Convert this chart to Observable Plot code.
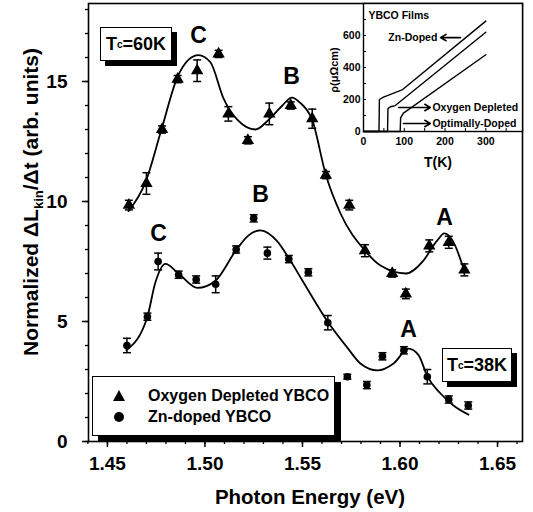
<!DOCTYPE html>
<html><head><meta charset="utf-8">
<script src="https://cdn.jsdelivr.net/npm/d3@7"></script>
<script src="https://cdn.jsdelivr.net/npm/@observablehq/plot@0.6"></script>
<style>
body{margin:0;background:#fff;}
#wrap{position:relative;width:533px;height:512px;font-family:"Liberation Sans",Arial,sans-serif;font-weight:bold;color:#000;}
#wrap > svg{position:absolute;}
.box{position:absolute;background:#fff;border:1px solid #000;box-sizing:border-box;}
.tc{font-size:18px;display:flex;align-items:center;justify-content:center;box-shadow:5px 5px 0 #000;}
.tc sub{font-size:10px;vertical-align:-6px;}
.legend{box-shadow:6px 6px 0 #000;font-size:16px;}
.legend .row{position:absolute;left:0;display:flex;align-items:center;}
.legend .row span{position:absolute;left:55px;white-space:nowrap;}
</style></head><body><div id="wrap"></div>
<script>
// ---- main chart data ----
const oxE   = [1.461,1.470,1.478,1.486,1.496,1.507,1.512,1.522,1.533,1.544,1.555,1.562,1.574,1.582,1.596,1.603,1.615,1.625,1.633];
const oxY   = [9.85,10.75,13.0,15.1,15.45,16.15,13.65,12.55,13.65,14.0,13.45,11.1,9.85,7.95,7.0,6.15,8.15,8.3,7.15];
const oxErr = [0.2,0.45,0.15,0.15,0.45,0.15,0.3,0.15,0.45,0.15,0.4,0.15,0.2,0.25,0.15,0.2,0.25,0.25,0.25];

const znE   = [1.460,1.4705,1.476,1.4865,1.4955,1.5055,1.516,1.525,1.532,1.543,1.553,1.563,1.573,1.583,1.591,1.602,1.614,1.625,1.635];
const znY   = [4.0,5.2,7.5,6.95,6.75,6.55,8.0,9.3,7.85,7.6,7.05,4.95,2.7,2.35,3.55,3.8,2.7,1.75,1.5];
const znErr = [0.3,0.15,0.35,0.15,0.15,0.35,0.15,0.15,0.25,0.15,0.15,0.3,0.1,0.15,0.15,0.15,0.3,0.15,0.15];

const oxFitE = [1.4608,1.4695,1.4777,1.486,1.4915,1.4967,1.5028,1.5095,1.5167,1.5259,1.5326,1.5397,1.5445,1.549,1.555,1.562,1.5695,1.582,1.590,1.603,1.612,1.619,1.6228,1.627,1.6326];
const oxFitY = [9.6,10.8,13.0,15.2,15.9,16.1,15.8,14.3,13.4,13.0,13.4,14.0,14.33,14.1,13.4,11.1,9.5,7.96,7.33,7.0,7.54,8.37,8.67,8.37,7.2];

const znFitE = [1.4597,1.4705,1.4745,1.4797,1.4864,1.4962,1.5054,1.5162,1.5225,1.5285,1.537,1.5433,1.550,1.5633,1.5731,1.5797,1.5885,1.5967,1.6044,1.6095,1.6141,1.6208,1.6274,1.6351];
const znFitY = [3.8,5.2,6.6,7.4,7.0,6.4,6.7,8.0,8.6,8.8,8.35,7.6,6.7,4.95,3.9,3.25,2.96,3.25,3.87,3.6,2.7,2.0,1.5,1.12];

const peakText = ["C","B","A","C","B","A"];
const peakE    = [1.4967,1.5444,1.6228,1.4762,1.5285,1.6044];
const peakY    = [16.92,15.2,9.33,8.67,10.3,4.67];

const xTicks = [1.45,1.50,1.55,1.60,1.65];
const xTickLabels = ["1.45","1.50","1.55","1.60","1.65"];
const yTicks = [0,5,10,15];
const yTickLabels = ["0","5","10","15"];

// ---- inset data ----
const znT  = [0,38,39,49,96,300];   const znR  = [0,0,200,215,262,690];
const oxT  = [0,59,60,66,78,300];   const oxR  = [0,0,143,155,162,620];
const optT = [0,90,91,98,300];      const optR = [0,0,85,115,480];
const insetXTicks = [0,100,200,300];
const insetYTicks = [0,200,400,600];
const noteText = ["YBCO Films","Zn-Doped","Oxygen Depleted","Optimally-Doped"];
const noteT    = [12,61,169,169];
const noteR    = [725,587,150,50];
const arrowT1  = [238,86,98];
const arrowT2  = [189,164,164];
const arrowR   = [587,150,50];

// ---- build ----
const ox = oxE.map((e,i)=>({e, y:oxY[i], lo:oxY[i]-oxErr[i], hi:oxY[i]+oxErr[i]}));
const zn = znE.map((e,i)=>({e, y:znY[i], lo:znY[i]-znErr[i], hi:znY[i]+znErr[i]}));
const oxFit = oxFitE.map((e,i)=>({e, y:oxFitY[i]}));
const znFit = znFitE.map((e,i)=>({e, y:znFitY[i]}));
const peaks = peakText.map((t,i)=>({t, e:peakE[i], y:peakY[i]}));
const errAll = ox.concat(zn);

const capSym = {draw(ctx){ ctx.moveTo(-4,0); ctx.lineTo(4,0); }};
const font = '"Liberation Sans", Arial, sans-serif';

const main = Plot.plot({
  width:533, height:512,
  marginLeft:88, marginRight:11, marginTop:3, marginBottom:71,
  x:{domain:[1.4403,1.6628], label:null},
  y:{domain:[0,18.25], label:null},
  style:{fontFamily:font, fontWeight:"bold", fontSize:"19px", color:"#000", background:"transparent", overflow:"visible"},
  marks:[
    Plot.axisX({ticks:d3.range(1.44,1.665,0.01), tickSize:3, tickFormat:()=>"", label:null, strokeWidth:1.3}),
    Plot.axisX({ticks:xTicks, tickSize:6, tickPadding:9, tickFormat:(d,i)=>xTickLabels[i], label:null, strokeWidth:1.5}),
    Plot.axisY({ticks:d3.range(0,19,1), tickSize:3, tickFormat:()=>"", label:null, strokeWidth:1.3}),
    Plot.axisY({ticks:yTicks, tickSize:6, tickPadding:15, tickFormat:(d,i)=>yTickLabels[i], label:null, strokeWidth:1.5}),
    Plot.frame({strokeWidth:1.6}),
    Plot.line(oxFit, {x:"e", y:"y", curve:"monotone-x", strokeWidth:1.8}),
    Plot.line(znFit, {x:"e", y:"y", curve:"monotone-x", strokeWidth:1.8}),
    Plot.ruleX(errAll, {x:"e", y1:"lo", y2:"hi", strokeWidth:1.5}),
    Plot.dot(errAll, {x:"e", y:"lo", symbol:capSym, fill:"none", stroke:"black", strokeWidth:1.5}),
    Plot.dot(errAll, {x:"e", y:"hi", symbol:capSym, fill:"none", stroke:"black", strokeWidth:1.5}),
    Plot.dot(ox, {x:"e", y:"y", symbol:"triangle", fill:"black", r:4.6}),
    Plot.dot(zn, {x:"e", y:"y", symbol:"circle", fill:"black", r:3.8}),
    Plot.text(peaks, {x:"e", y:"y", text:"t", fontSize:23, fontWeight:"bold", fill:"black", textAnchor:"middle", lineAnchor:"middle"})
  ]
});

const svg = d3.select(main);
svg.append("text").attr("x",310).attr("y",504).attr("text-anchor","middle")
  .attr("font-size",20.5).attr("font-weight","bold").attr("fill","black").text("Photon Energy (eV)");
const yt = svg.append("text").attr("transform","translate(38,202) rotate(-90)").attr("text-anchor","middle")
  .attr("font-size",21).attr("font-weight","bold").attr("fill","black");
yt.append("tspan").text("Normalized ΔL");
yt.append("tspan").attr("font-size",13).attr("dy",5).text("kin");
yt.append("tspan").attr("dy",-5).text("/Δt (arb. units)");

const pts = (T,R)=>T.map((t,i)=>({t, r:R[i]}));
const notes = noteText.map((s,i)=>({s, t:noteT[i], r:noteR[i]}));
const arrows = arrowT1.map((t1,i)=>({t1, t2:arrowT2[i], r:arrowR[i]}));

const inset = Plot.plot({
  width:203, height:172,
  marginLeft:33, marginRight:11, marginTop:3, marginBottom:41,
  x:{domain:[0,390], label:null},
  y:{domain:[0,800], label:null},
  style:{fontFamily:font, fontWeight:"bold", fontSize:"10.5px", color:"#000", background:"transparent", overflow:"visible"},
  marks:[
    Plot.frame({fill:"white"}),
    Plot.frame({strokeWidth:1.4}),
    Plot.axisX({ticks:d3.range(0,390,50), tickSize:-3, tickFormat:()=>"", label:null}),
    Plot.axisX({ticks:insetXTicks, tickSize:0, tickPadding:6, label:null}),
    Plot.axisY({ticks:d3.range(0,800,100), tickSize:-3, tickFormat:()=>"", label:null}),
    Plot.axisY({ticks:insetYTicks, tickSize:0, tickPadding:3, label:null}),
    Plot.line(pts(znT,znR), {x:"t", y:"r", strokeWidth:1.4}),
    Plot.line(pts(oxT,oxR), {x:"t", y:"r", strokeWidth:1.4}),
    Plot.line(pts(optT,optR), {x:"t", y:"r", strokeWidth:1.4}),
    Plot.arrow(arrows, {x1:"t1", x2:"t2", y1:"r", y2:"r", headLength:6, strokeWidth:1.6}),
    Plot.text(notes, {x:"t", y:"r", text:"s", textAnchor:"start", fontSize:10.5, fontWeight:"bold", fill:"black"})
  ]
});
const is = d3.select(inset);
is.append("text").attr("x",108).attr("y",167).attr("text-anchor","middle")
  .attr("font-size",14).attr("font-weight","bold").attr("fill","black").text("T(K)");
is.append("text").attr("transform","translate(8,70) rotate(-90)").attr("text-anchor","middle")
  .attr("font-size",11).attr("font-weight","bold").attr("fill","black").text("ρ(μΩcm)");

const wrap = document.getElementById("wrap");
main.style.left="0px"; main.style.top="0px";
inset.style.left="330px"; inset.style.top="0px";
wrap.appendChild(main);
wrap.appendChild(inset);

// Tc annotation boxes
const tcBoxes = [{txt:"60K", left:100, top:27, w:72, h:34}, {txt:"38K", left:442, top:348, w:70, h:34}];
tcBoxes.forEach(b=>{
  const d = document.createElement("div");
  d.className = "box tc";
  Object.assign(d.style,{left:b.left+"px", top:b.top+"px", width:b.w+"px", height:b.h+"px"});
  d.innerHTML = "T<sub>c</sub>=" + b.txt;
  wrap.appendChild(d);
});

// legend
const legendItems = ["Oxygen Depleted YBCO","Zn-doped YBCO"];
const lg = document.createElement("div");
lg.className = "box legend";
Object.assign(lg.style,{left:"92px", top:"376px", width:"243px", height:"60px"});
legendItems.forEach((name,i)=>{
  const row = document.createElement("div");
  row.className = "row";
  row.style.top = (i===0 ? 9 : 30) + "px";
  row.style.height = "20px";
  const sym = i===0
    ? '<svg width="52" height="20" style="position:absolute;left:0;top:0"><polygon points="26,4 32,15 20,15" fill="black"/></svg>'
    : '<svg width="52" height="20" style="position:absolute;left:0;top:0"><circle cx="26" cy="10" r="5" fill="black"/></svg>';
  row.innerHTML = sym + '<span style="top:0;line-height:20px">' + name + '</span>';
  lg.appendChild(row);
});
wrap.appendChild(lg);
</script></body></html>
